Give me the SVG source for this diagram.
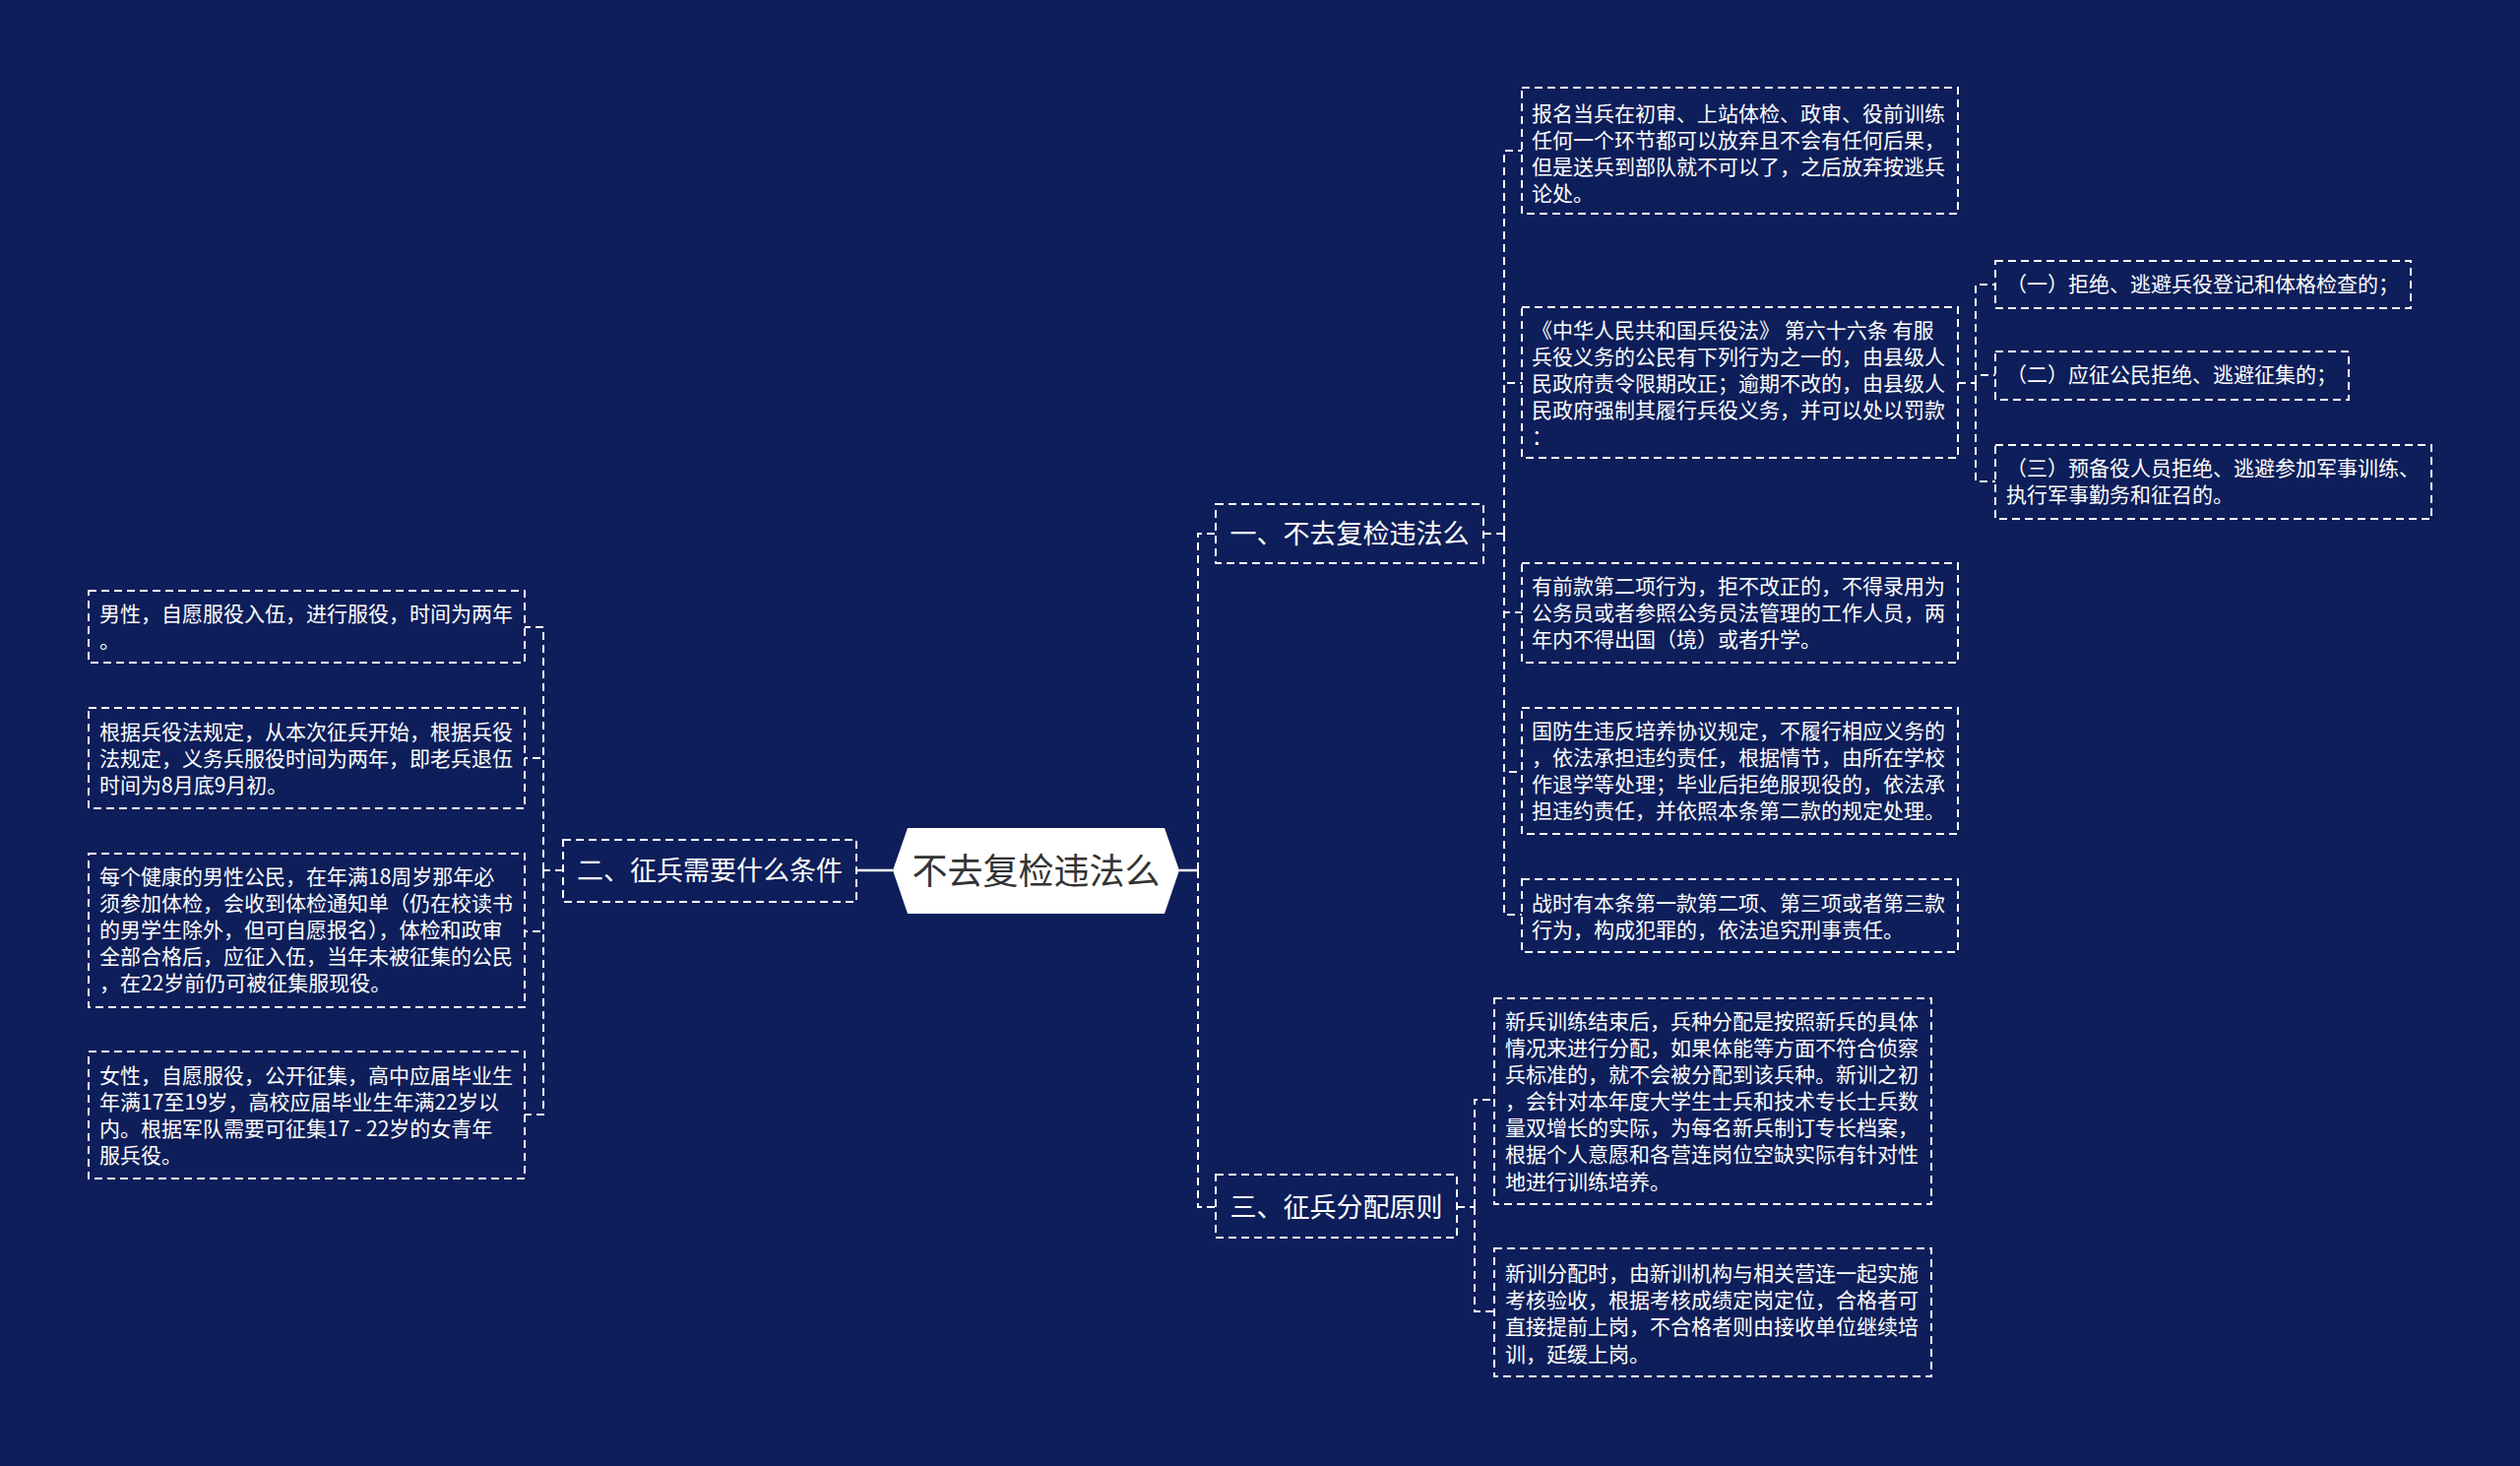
<svg xmlns="http://www.w3.org/2000/svg" width="2560" height="1489" viewBox="0 0 2560 1489">
<style>
.bg{fill:#0d1e5a}
.box{fill:none;stroke:#ffffff;stroke-width:2;stroke-dasharray:8,5}
.ln{fill:none;stroke:#ffffff;stroke-width:2;stroke-dasharray:8,5}
.solid{fill:none;stroke:#ffffff;stroke-width:2.5}
.t{font-family:"Noto Sans CJK SC","Noto Sans",sans-serif;font-size:21px;fill:#ffffff;dominant-baseline:central;transform:translate(0px,-3px)}
.m{font-family:"Noto Sans CJK SC","Noto Sans",sans-serif;font-size:27px;fill:#ffffff;dominant-baseline:central;text-anchor:middle;transform:translate(0px,-3px)}
.c{font-family:"Noto Sans CJK SC","Noto Sans",sans-serif;font-size:36px;fill:#333333;dominant-baseline:central;text-anchor:middle;transform:translate(0px,-3px)}
</style>
<rect class="bg" x="0" y="0" width="2560" height="1489"/>

<g id="connectors">
  <path class="solid" d="M907 884 H870"/>
  <path class="solid" d="M1198 884 H1217"/>
  <path class="ln" d="M1217 884 V542 H1235"/>
  <path class="ln" d="M1217 884 V1226 H1235"/>
  <path class="ln" d="M572 884 H552"/>
  <path class="ln" d="M552 884 V637 H533"/>
  <path class="ln" d="M552 884 V770 H533"/>
  <path class="ln" d="M552 884 V946 H533"/>
  <path class="ln" d="M552 884 V1132 H533"/>
  <path class="ln" d="M1507 542 H1528"/>
  <path class="ln" d="M1528 542 V153 H1546"/>
  <path class="ln" d="M1528 542 V389 H1546"/>
  <path class="ln" d="M1528 542 V622 H1546"/>
  <path class="ln" d="M1528 542 V784 H1546"/>
  <path class="ln" d="M1528 542 V929 H1546"/>
  <path class="ln" d="M1989 389 H2007"/>
  <path class="ln" d="M2007 389 V289 H2027"/>
  <path class="ln" d="M2007 389 V381 H2027"/>
  <path class="ln" d="M2007 389 V489 H2027"/>
  <path class="ln" d="M1480 1226 H1498"/>
  <path class="ln" d="M1498 1226 V1117 H1518"/>
  <path class="ln" d="M1498 1226 V1332 H1518"/>
</g>

<g id="root">
  <polygon points="907,884 922,841 1183,841 1198,884 1183,928 922,928" fill="#ffffff"/>
  <text class="c" x="1052.5" y="885">不去复检违法么</text>
</g>

<g id="n1">
  <rect class="box" x="1235" y="512" width="272" height="60"/>
  <text class="m" x="1371" y="543">一、不去复检违法么</text>
</g>
<g id="n2">
  <rect class="box" x="572" y="853" width="298" height="63"/>
  <text class="m" x="721" y="885">二、征兵需要什么条件</text>
</g>
<g id="n3">
  <rect class="box" x="1235" y="1193" width="245" height="64"/>
  <text class="m" x="1357.5" y="1227">三、征兵分配原则</text>
</g>

<g id="a1">
  <rect class="box" x="1546" y="89" width="443" height="128"/>
  <text class="t"><tspan x="1556" y="116.5">报名当兵在初审、上站体检、政审、役前训练</tspan><tspan x="1556" y="143.5">任何一个环节都可以放弃且不会有任何后果，</tspan><tspan x="1556" y="170.5">但是送兵到部队就不可以了，之后放弃按逃兵</tspan><tspan x="1556" y="197.5">论处。</tspan></text>
</g>
<g id="a2">
  <rect class="box" x="1546" y="312" width="443" height="153"/>
  <text class="t"><tspan x="1556" y="336.5">《中华人民共和国兵役法》 第六十六条 有服</tspan><tspan x="1556" y="363.5">兵役义务的公民有下列行为之一的，由县级人</tspan><tspan x="1556" y="390.5">民政府责令限期改正；逾期不改的，由县级人</tspan><tspan x="1556" y="417.5">民政府强制其履行兵役义务，并可以处以罚款</tspan><tspan x="1556" y="444.5">：</tspan></text>
</g>
<g id="b1">
  <rect class="box" x="2027" y="265" width="422" height="48"/>
  <text class="t" x="2038" y="290">（一）拒绝、逃避兵役登记和体格检查的；</text>
</g>
<g id="b2">
  <rect class="box" x="2027" y="357" width="359" height="49"/>
  <text class="t" x="2038" y="382">（二）应征公民拒绝、逃避征集的；</text>
</g>
<g id="b3">
  <rect class="box" x="2027" y="452" width="443" height="75"/>
  <text class="t"><tspan x="2038" y="476.5">（三）预备役人员拒绝、逃避参加军事训练、</tspan><tspan x="2038" y="503.5">执行军事勤务和征召的。</tspan></text>
</g>
<g id="a3">
  <rect class="box" x="1546" y="572" width="443" height="101"/>
  <text class="t"><tspan x="1556" y="596.5">有前款第二项行为，拒不改正的，不得录用为</tspan><tspan x="1556" y="623.5">公务员或者参照公务员法管理的工作人员，两</tspan><tspan x="1556" y="650.5">年内不得出国（境）或者升学。</tspan></text>
</g>
<g id="a4">
  <rect class="box" x="1546" y="719" width="443" height="128"/>
  <text class="t"><tspan x="1556" y="744">国防生违反培养协议规定，不履行相应义务的</tspan><tspan x="1556" y="771">，依法承担违约责任，根据情节，由所在学校</tspan><tspan x="1556" y="798">作退学等处理；毕业后拒绝服现役的，依法承</tspan><tspan x="1556" y="825">担违约责任，并依照本条第二款的规定处理。</tspan></text>
</g>
<g id="a5">
  <rect class="box" x="1546" y="893" width="443" height="74"/>
  <text class="t"><tspan x="1556" y="918.5">战时有本条第一款第二项、第三项或者第三款</tspan><tspan x="1556" y="945.5">行为，构成犯罪的，依法追究刑事责任。</tspan></text>
</g>

<g id="c1">
  <rect class="box" x="1518" y="1014" width="444" height="209"/>
  <text class="t"><tspan x="1529" y="1038.5">新兵训练结束后，兵种分配是按照新兵的具体</tspan><tspan x="1529" y="1065.7">情况来进行分配，如果体能等方面不符合侦察</tspan><tspan x="1529" y="1092.8">兵标准的，就不会被分配到该兵种。新训之初</tspan><tspan x="1529" y="1120">，会针对本年度大学生士兵和技术专长士兵数</tspan><tspan x="1529" y="1147.2">量双增长的实际，为每名新兵制订专长档案，</tspan><tspan x="1529" y="1174.3">根据个人意愿和各营连岗位空缺实际有针对性</tspan><tspan x="1529" y="1201.5">地进行训练培养。</tspan></text>
</g>
<g id="c2">
  <rect class="box" x="1518" y="1268" width="444" height="130"/>
  <text class="t"><tspan x="1529" y="1294.5">新训分配时，由新训机构与相关营连一起实施</tspan><tspan x="1529" y="1321.8">考核验收，根据考核成绩定岗定位，合格者可</tspan><tspan x="1529" y="1349.2">直接提前上岗，不合格者则由接收单位继续培</tspan><tspan x="1529" y="1376.5">训，延缓上岗。</tspan></text>
</g>

<g id="d1">
  <rect class="box" x="90" y="600" width="443" height="73"/>
  <text class="t"><tspan x="101" y="625">男性，自愿服役入伍，进行服役，时间为两年</tspan><tspan x="101" y="652">。</tspan></text>
</g>
<g id="d2">
  <rect class="box" x="90" y="719" width="443" height="102"/>
  <text class="t"><tspan x="101" y="745">根据兵役法规定，从本次征兵开始，根据兵役</tspan><tspan x="101" y="772">法规定，义务兵服役时间为两年，即老兵退伍</tspan><tspan x="101" y="799">时间为8月底9月初。</tspan></text>
</g>
<g id="d3">
  <rect class="box" x="90" y="867" width="443" height="156"/>
  <text class="t"><tspan x="101" y="891.5">每个健康的男性公民，在年满18周岁那年必</tspan><tspan x="101" y="918.5">须参加体检，会收到体检通知单（仍在校读书</tspan><tspan x="101" y="945.5">的男学生除外，但可自愿报名），体检和政审</tspan><tspan x="101" y="972.5">全部合格后，应征入伍，当年未被征集的公民</tspan><tspan x="101" y="999.5">，在22岁前仍可被征集服现役。</tspan></text>
</g>
<g id="d4">
  <rect class="box" x="90" y="1068" width="443" height="129"/>
  <text class="t"><tspan x="101" y="1093.5">女性，自愿服役，公开征集，高中应届毕业生</tspan><tspan x="101" y="1120.5">年满17至19岁，高校应届毕业生年满22岁以</tspan><tspan x="101" y="1147.5">内。根据军队需要可征集17 - 22岁的女青年</tspan><tspan x="101" y="1174.5">服兵役。</tspan></text>
</g>
</svg>
